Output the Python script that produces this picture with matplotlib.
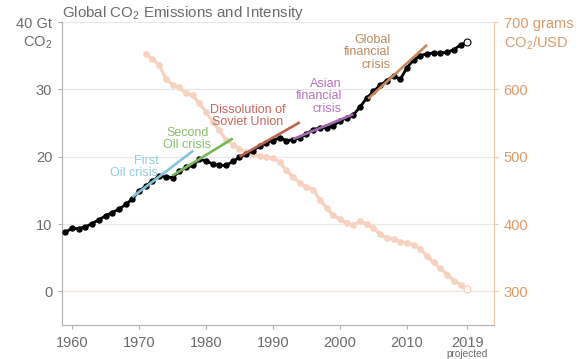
import numpy as np
import matplotlib
matplotlib.use("Agg")
import matplotlib.pyplot as plt

plt.rcParams['font.family'] = ['Liberation Sans', 'DejaVu Sans']
plt.rcParams['mathtext.fontset'] = 'custom'
plt.rcParams['mathtext.rm'] = 'Liberation Sans'

# fossil CO2 emissions, Gt CO2 (2019 projected)
years = np.arange(1959, 2020)
emissions = [8.8, 9.35, 9.3, 9.6, 10.05, 10.65, 11.2, 11.7, 12.2, 12.9, 13.7,
             14.9, 15.6, 16.4, 17.1, 17.0, 16.9, 17.8, 18.4, 18.7, 19.6,
             19.4, 18.9, 18.7, 18.7, 19.3, 19.9, 20.4, 20.9, 21.6, 22.1,
             22.4, 22.8, 22.4, 22.5, 22.8, 23.4, 24.0, 24.3, 24.3, 24.6,
             25.3, 25.8, 26.2, 27.4, 28.7, 29.7, 30.6, 31.3, 32.0, 31.5,
             33.2, 34.4, 35.0, 35.3, 35.4, 35.4, 35.5, 35.9, 36.6, 37.0]

# carbon intensity, g CO2 per USD
int_years = np.arange(1971, 2020)
intensity = [652, 645, 636, 616, 607, 603, 594, 591, 579, 567,
             552, 539, 525, 518, 512, 507, 504, 501, 499, 498,
             492, 480, 470, 461, 455, 451, 436, 424, 413, 407,
             401, 398, 404, 400, 394, 385, 379, 378, 373, 372,
             369, 363, 352, 343, 334, 325, 316, 310, 303]

# crisis trend lines
crisis_labels = ["First\nOil crisis", "Second\nOil crisis", "Dissolution of\nSoviet Union",
                 "Asian\nfinancial\ncrisis", "Global\nfinancial\ncrisis"]
trend_x0 = [1969.0, 1975.0, 1985.0, 1993.0, 2004.2]
trend_x1 = [1978.1, 1984.0, 1994.0, 2002.0, 2013.0]
trend_y0 = [14.0, 17.2, 20.0, 22.6, 28.6]
trend_y1 = [20.9, 22.7, 25.1, 26.3, 36.6]
trend_colors = ["#84c4da", "#78b95a", "#c0624c", "#a266b2", "#c88a5c"]
text_colors = ["#92cce0", "#84c068", "#c4685a", "#b274bc", "#bd8a5e"]

gray = "#6b6b6b"
orange = "#dd9a68"
peach = "#f7d2be"

fig = plt.figure(figsize=(5.81, 3.59), dpi=100)
ax = fig.add_axes([0.1067, 0.0947, 0.7436, 0.844])
ax2 = ax.twinx()
ax.set_zorder(ax2.get_zorder() + 1)
ax.patch.set_visible(False)

ax.set_xlim(1958.5, 2023.0)
ax.set_ylim(-5, 40)
ax2.set_ylim(250, 700)

# grid
for v in [10, 20, 30, 40]:
    ax2.axhline(300 + 10 * v, color="#e8e8e8", lw=0.9, zorder=0)
ax2.axhline(300, color="#f1e7dd", lw=0.9, zorder=0)

# intensity
ax2.plot(int_years[:-1], intensity[:-1], color=peach, lw=2.4, marker="o",
         markersize=3.8, zorder=2, solid_capstyle="round")
ax2.plot(int_years[-2:], intensity[-2:], color=peach, lw=2.4, zorder=2)
ax2.plot(int_years[-1], intensity[-1], marker="o", markersize=5, mfc="white",
         mec=peach, mew=1, zorder=3)

# emissions
ax.plot(years[:-1], emissions[:-1], color="black", lw=2.0, marker="o",
        markersize=3.6, zorder=3)
ax.plot(years[-2:], emissions[-2:], color="black", lw=2.0, zorder=3)
ax.plot(years[-1], emissions[-1], marker="o", markersize=5, mfc="white",
        mec="black", mew=0.8, zorder=5)

# trend lines
for x0, x1, y0, y1, c in zip(trend_x0, trend_x1, trend_y0, trend_y1, trend_colors):
    ax.plot([x0, x1], [y0, y1], color=c, lw=1.9, zorder=4, solid_capstyle="butt")

# crisis labels
label_pos = [(1972.9, 18.5, "right"), (1977.2, 22.6, "center"), (1986.2, 26.0, "center"),
             (2000.3, 29.0, "right"), (2007.5, 35.5, "right")]
for lab, (lx, ly, ha), c in zip(crisis_labels, label_pos, text_colors):
    ax.text(lx, ly, lab, color=c, fontsize=9, ha=ha, va="center",
            linespacing=1.05, zorder=6)

# axes styling
for s in ["top", "right"]:
    ax.spines[s].set_visible(False)
for s in ["top", "left", "bottom"]:
    ax2.spines[s].set_visible(False)
ax.spines["left"].set_color("#b0b0b0")
ax.spines["bottom"].set_color("#b0b0b0")
ax2.spines["right"].set_color("#ecc8aa")

xt = [1960, 1970, 1980, 1990, 2000, 2010, 2019]
ax.set_xticks(xt)
ax.set_xticklabels([str(x) for x in xt])
ax.set_yticks([0, 10, 20, 30, 40])
ax.set_yticklabels(["0", "10", "20", "30", "40 Gt"])
ax.tick_params(axis="both", colors="#b0b0b0", labelcolor=gray, labelsize=10.5,
               length=3, width=0.8)
ax.tick_params(axis="x", pad=5)
ax.tick_params(axis="y", pad=4)
ax2.set_yticks([300, 400, 500, 600, 700])
ax2.set_yticklabels(["300", "400", "500", "600", "700 grams"])
ax2.tick_params(axis="y", colors="#ecc8aa", labelcolor=orange, labelsize=10.5,
                length=3, width=0.8, pad=4)

ax.annotate("CO$_2$", xy=(0, 40), xycoords=("axes fraction", "data"),
            xytext=(-7, -15), textcoords="offset points", ha="right", va="center",
            color=gray, fontsize=10.5)
ax2.annotate("CO$_2$/USD", xy=(1, 700), xycoords=("axes fraction", "data"),
             xytext=(7, -15), textcoords="offset points", ha="left", va="center",
             color=orange, fontsize=10.5)
ax.annotate("projected", xy=(2019, 0), xycoords=("data", "axes fraction"),
            xytext=(0, -21), textcoords="offset points", ha="center", va="center",
            color=gray, fontsize=7.3)

ax.text(0, 1.0, "Global CO$_2$ Emissions and Intensity", transform=ax.transAxes,
        ha="left", va="bottom", color=gray, fontsize=10.9)

fig.savefig("out.png", dpi=100)
